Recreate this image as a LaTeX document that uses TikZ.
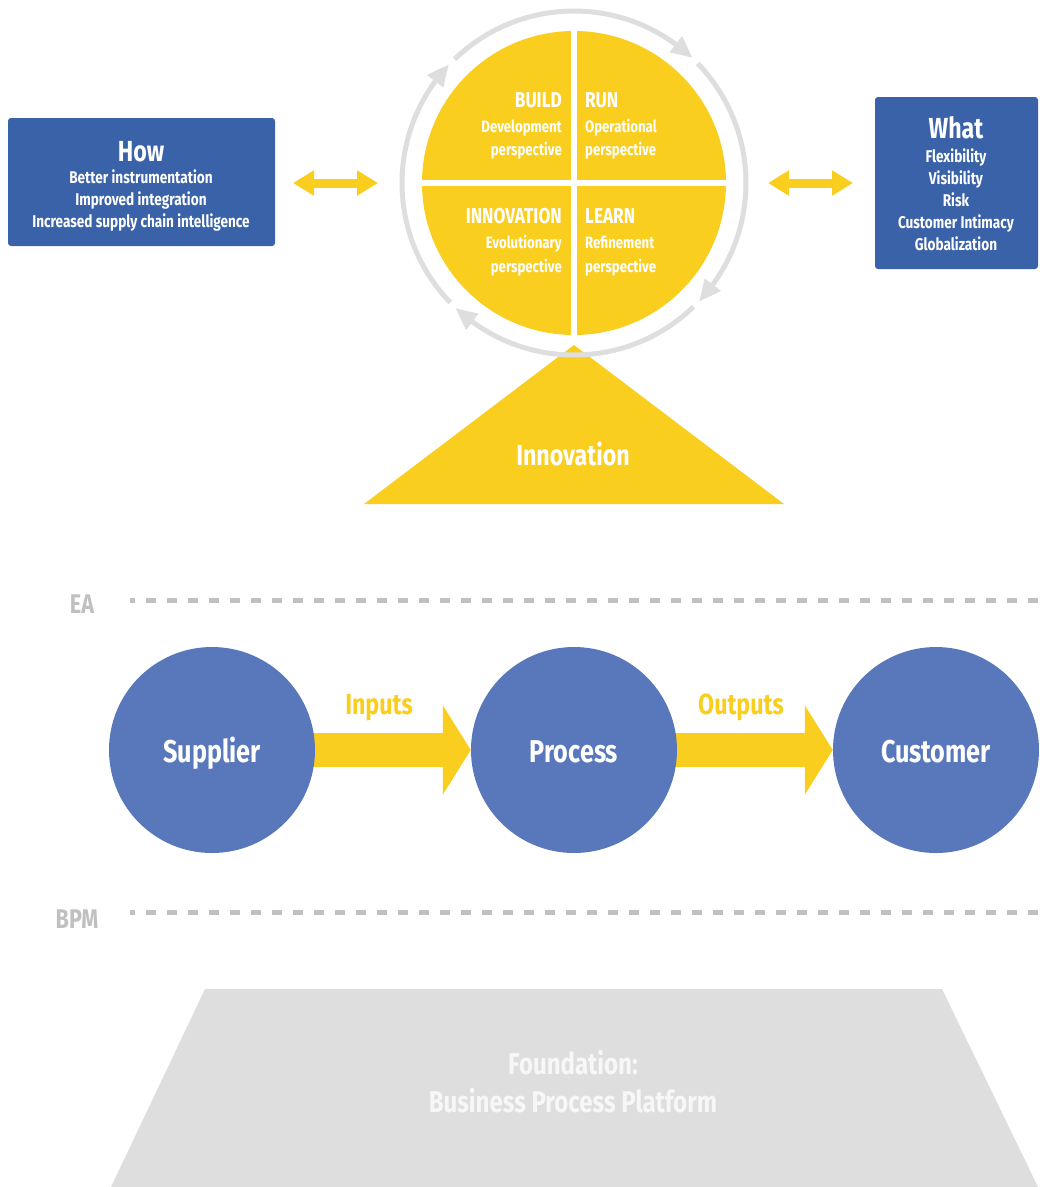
\documentclass[tikz,border=0pt]{standalone}
\usepackage{fontspec}
\setmainfont{Fira Sans}[FakeStretch=0.8]
\usetikzlibrary{arrows.meta,bending}
\definecolor{ylw}{RGB}{250,206,30}
\definecolor{boxblue}{RGB}{58,98,168}
\definecolor{circblue}{RGB}{89,120,187}
\definecolor{ringgray}{RGB}{222,222,222}
\definecolor{dashgray}{RGB}{192,192,192}
\definecolor{fndgray}{RGB}{222,222,222}
\definecolor{fndtext}{RGB}{247,247,247}
\pgfdeclarelayer{bg}
\pgfsetlayers{bg,main}
\begin{document}
\begin{tikzpicture}[x=1pt,y=-1pt,
  lbl/.style={font=\bfseries\fontsize{#1}{#1}\selectfont, inner sep=0pt, anchor=base},
  wlbl/.style={lbl=#1, text=white},
  infobox/.style={fill=boxblue, rounded corners=3pt, inner sep=0pt},
  bigcirc/.style={circle, fill=circblue, minimum size=206pt, inner sep=0pt},
  ring/.style={ringgray, line width=5pt, -{Triangle[length=22pt,width=19pt,bend]}},
  dblarrow/.style={ylw, line width=9pt, {Triangle[length=21pt,width=24pt]}-{Triangle[length=21pt,width=24pt]}},
  flowarrow/.style={ylw, line width=34pt, -{Triangle[length=28pt,width=88pt]}},
  sepline/.style={dashgray, line width=5pt, dash pattern=on 10pt off 11pt, dash phase=5pt}
]
\begin{pgfonlayer}{bg}
\fill[white] (0,0) rectangle (1040,1187);
\end{pgfonlayer}
\useasboundingbox (0,0) rectangle (1040,1187);

% How box
\node[infobox, minimum width=267pt, minimum height=128pt] (how) at (141.5,182) {};
\node[wlbl=29] (howt) at (141,161) {How};
\node[wlbl=17] (how1) at (141,183) {Better instrumentation};
\node[wlbl=17] (how2) at (141,205) {Improved integration};
\node[wlbl=17] (how3) at (141,227) {Increased supply chain intelligence};

% What box
\node[infobox, minimum width=163pt, minimum height=172pt] (what) at (956.5,183) {};
\node[wlbl=29] (whatt) at (956,138) {What};
\node[wlbl=17] (what1) at (956,162) {Flexibility};
\node[wlbl=17] (what2) at (956,184) {Visibility};
\node[wlbl=17] (what3) at (956,206) {Risk};
\node[wlbl=17] (what4) at (956,228) {Customer Intimacy};
\node[wlbl=17] (what5) at (956,250) {Globalization};

% double arrows
\coordinate (hl) at (293,183); \coordinate (hr) at (378,183);
\coordinate (wl) at (768,183); \coordinate (wr) at (853,183);
\draw[dblarrow] (hl) -- (hr);
\draw[dblarrow] (wl) -- (wr);

% wheel
\coordinate (cc) at (574,183);
\fill[ylw] (cc) circle[radius=152];
\draw[white, line width=6pt] (574,28) -- (574,338);
\draw[white, line width=6pt] (419,183) -- (729,183);

% innovation triangle
\fill[ylw] (574,345) -- (784,504) -- (364,504) -- cycle;
\node[wlbl=29] (innov) at (573,465) {Innovation};

% ring arcs
\draw[ring] (cc) ++(-134:172) arc[start angle=-134, end angle=-46.5, radius=172];
\draw[ring] (cc) ++(-44:172) arc[start angle=-44, end angle=43.5, radius=172];
\draw[ring] (cc) ++(46:172) arc[start angle=46, end angle=133.5, radius=172];
\draw[ring] (cc) ++(136:172) arc[start angle=136, end angle=223.5, radius=172];

% quadrant labels
\node[wlbl=21.5, anchor=base east] (build) at (562,107) {BUILD};
\node[wlbl=16.5, anchor=base east] (build1) at (562,132) {Development};
\node[wlbl=16.5, anchor=base east] (build2) at (562,155) {perspective};
\node[wlbl=21.5, anchor=base west] (run) at (585,107) {RUN};
\node[wlbl=16.5, anchor=base west] (run1) at (585,132) {Operational};
\node[wlbl=16.5, anchor=base west] (run2) at (585,155) {perspective};
\node[wlbl=21.5, anchor=base east] (inn) at (562,223) {INNOVATION};
\node[wlbl=16.5, anchor=base east] (inn1) at (562,248) {Evolutionary};
\node[wlbl=16.5, anchor=base east] (inn2) at (562,272) {perspective};
\node[wlbl=21.5, anchor=base west] (learn) at (585,223) {LEARN};
\node[wlbl=16.5, anchor=base west] (learn1) at (585,248) {Refinement};
\node[wlbl=16.5, anchor=base west] (learn2) at (585,272) {perspective};

% layer lines
\node[lbl=27, text=dashgray] (ea) at (82,613) {EA};
\coordinate (ea1) at (130,600); \coordinate (ea2) at (1040,600);
\draw[sepline] (ea1) -- (ea2);
\node[lbl=27, text=dashgray] (bpm) at (77,928) {BPM};
\coordinate (bpm1) at (130,912); \coordinate (bpm2) at (1040,912);
\draw[sepline] (bpm1) -- (bpm2);

% process chain
\node[bigcirc] (sup) at (212,750) {};
\node[bigcirc] (proc) at (574,750) {};
\node[bigcirc] (cust) at (936,750) {};
\node[wlbl=31.5] (supt) at (212,762) {Supplier};
\node[wlbl=31.5] (proct) at (574,762) {Process};
\node[wlbl=31.5] (custt) at (936,762) {Customer};
\begin{pgfonlayer}{bg}
\draw[flowarrow] (sup.center) -- (proc.west);
\draw[flowarrow] (proc.center) -- (cust.west);
\end{pgfonlayer}
\node[lbl=29, text=ylw] (inp) at (379,714) {Inputs};
\node[lbl=29, text=ylw] (outp) at (741,714) {Outputs};

% foundation
\fill[fndgray] (205,989) -- (942,989) -- (1038,1187) -- (111,1187) -- cycle;
\node[lbl=30, text=fndtext] (fnd1) at (573,1074) {Foundation:};
\node[lbl=30, text=fndtext] (fnd2) at (573,1112) {Business Process Platform};
\end{tikzpicture}
\end{document}
